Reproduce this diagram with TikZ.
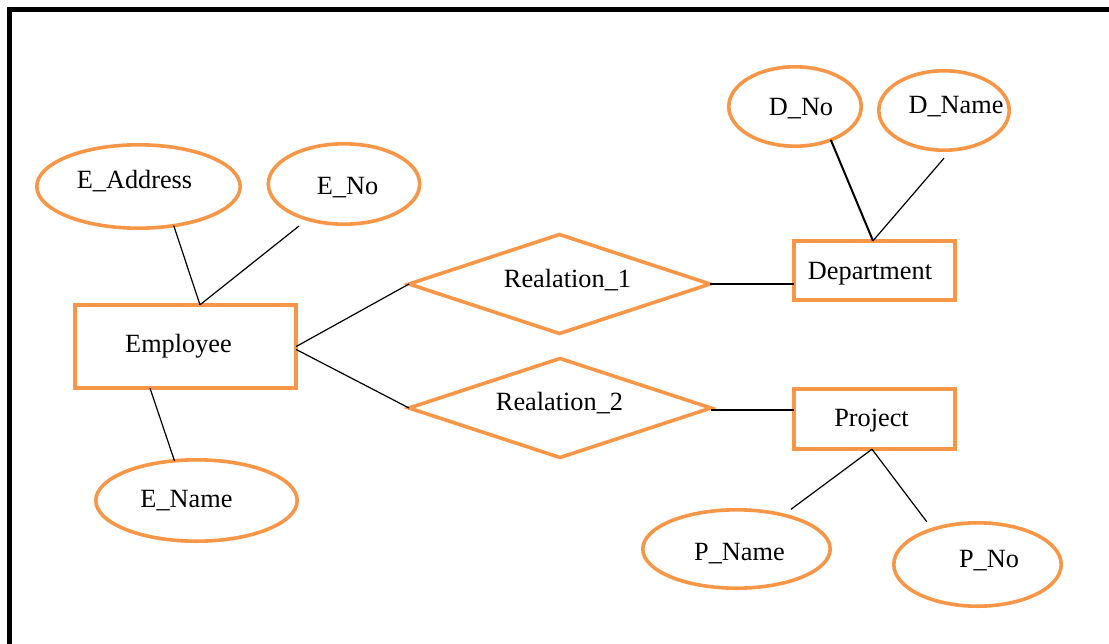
\documentclass[tikz,border=0pt]{standalone}
\usepackage{fontspec}
\setmainfont{Liberation Serif}
\usetikzlibrary{shapes.geometric,calc}
\definecolor{erorange}{HTML}{F79646}
\begin{document}
\begin{tikzpicture}[x=1pt,y=-1pt,
  every node/.style={font=\fontsize{26.3pt}{30pt}\selectfont},
  every label/.style={text height=17.4pt,text depth=0pt,inner sep=0pt,outer sep=0pt},
  attr/.style={ellipse,draw=erorange,line width=3.6pt,inner sep=0pt,outer sep=0pt},
  ent/.style={rectangle,draw=erorange,line width=3.6pt,inner sep=0pt,outer sep=0pt},
  rel/.style={diamond,draw=erorange,line width=3.6pt,inner sep=0pt,outer sep=0pt},
  conn/.style={line width=1.2pt,draw=black},
  frame/.style={line width=5pt,draw=black}]
\useasboundingbox (0,0) rectangle (1109,643);
% frame
\coordinate (fa) at (9.5,660);
\coordinate (fb) at (9.5,9.5);
\coordinate (fc) at (1125,9.5);
\draw[frame] (fa) -- (fb) -- (fc);
% attributes
\node[attr,minimum width=203.4pt,minimum height=83.4pt,
  label={[xshift=-4pt,yshift=7pt]center:E\_Address}] (ea) at (138.5,186.5) {};
\node[attr,minimum width=151.4pt,minimum height=80.4pt,
  label={[xshift=3.5pt,yshift=-2pt]center:E\_No}] (eno) at (344,184) {};
\node[attr,minimum width=201.4pt,minimum height=81.4pt,
  label={[xshift=-10pt,yshift=1.5pt]center:E\_Name}] (en) at (196.5,500.5) {};
\node[attr,minimum width=132.4pt,minimum height=79.4pt,
  label={[xshift=6pt,yshift=0pt]center:D\_No}] (dno) at (795,106.5) {};
\node[attr,minimum width=130.4pt,minimum height=79.4pt,
  label={[xshift=12pt,yshift=5.5pt]center:D\_Name}] (dna) at (944,110.5) {};
\node[attr,minimum width=187.4pt,minimum height=78.4pt,
  label={[xshift=3pt,yshift=-2.5pt]center:P\_Name}] (pn) at (736.5,549) {};
\node[attr,minimum width=167.4pt,minimum height=83.4pt,
  label={[xshift=11.5pt,yshift=5.5pt]center:P\_No}] (pno) at (977.5,564.5) {};
% entities
\node[ent,minimum width=221.4pt,minimum height=83.4pt,
  label={[xshift=-7pt,yshift=2.5pt]center:Employee}] (emp) at (185.5,346.5) {};
\node[ent,minimum width=161.4pt,minimum height=59.4pt,
  label={[xshift=-4.5pt,yshift=0pt]center:Department}] (dep) at (874.5,270.5) {};
\node[ent,minimum width=161.4pt,minimum height=60.4pt,
  label={[xshift=-3pt,yshift=1.5pt]center:Project}] (proj) at (874.5,419) {};
% relationships
\node[rel,minimum width=301pt,minimum height=99pt,
  label={[xshift=8pt,yshift=5pt]center:Realation\_1}] (r1) at (559.5,284) {};
\node[rel,minimum width=302pt,minimum height=99pt,
  label={[xshift=-0.5pt,yshift=6pt]center:Realation\_2}] (r2) at (560,408) {};
% connectors
\draw[conn] (ea.-48.6) -- ([xshift=14.5pt]emp.north);
\draw[conn,shorten <=11pt] (eno.-136) -- ([xshift=14.5pt]emp.north);
\draw[conn] ([xshift=-35.5pt]emp.south) -- (en.119.4);
\draw[conn] (emp.east) -- (r1.west);
\draw[conn] ([yshift=-3pt]emp.east) -- (r2.west);
\draw[conn] (r1.east) -- (r1.east -| dep.west);
\draw[conn] ([yshift=-2pt]r2.east) -- ([yshift=-2pt]r2.east -| proj.west);
\draw[conn,line width=2pt] (dno.-43.7) -- ([xshift=-1.5pt]dep.north);
\draw[conn] ([yshift=-8pt]dna.south) -- ([xshift=-1.5pt]dep.north);
\draw[conn,shorten >=9.5pt] ([xshift=-2.5pt]proj.south) -- (pn.36.5);
\draw[conn,shorten >=9.5pt] ([xshift=-2.5pt]proj.south) -- (pno.142.6);
\end{tikzpicture}
\end{document}
